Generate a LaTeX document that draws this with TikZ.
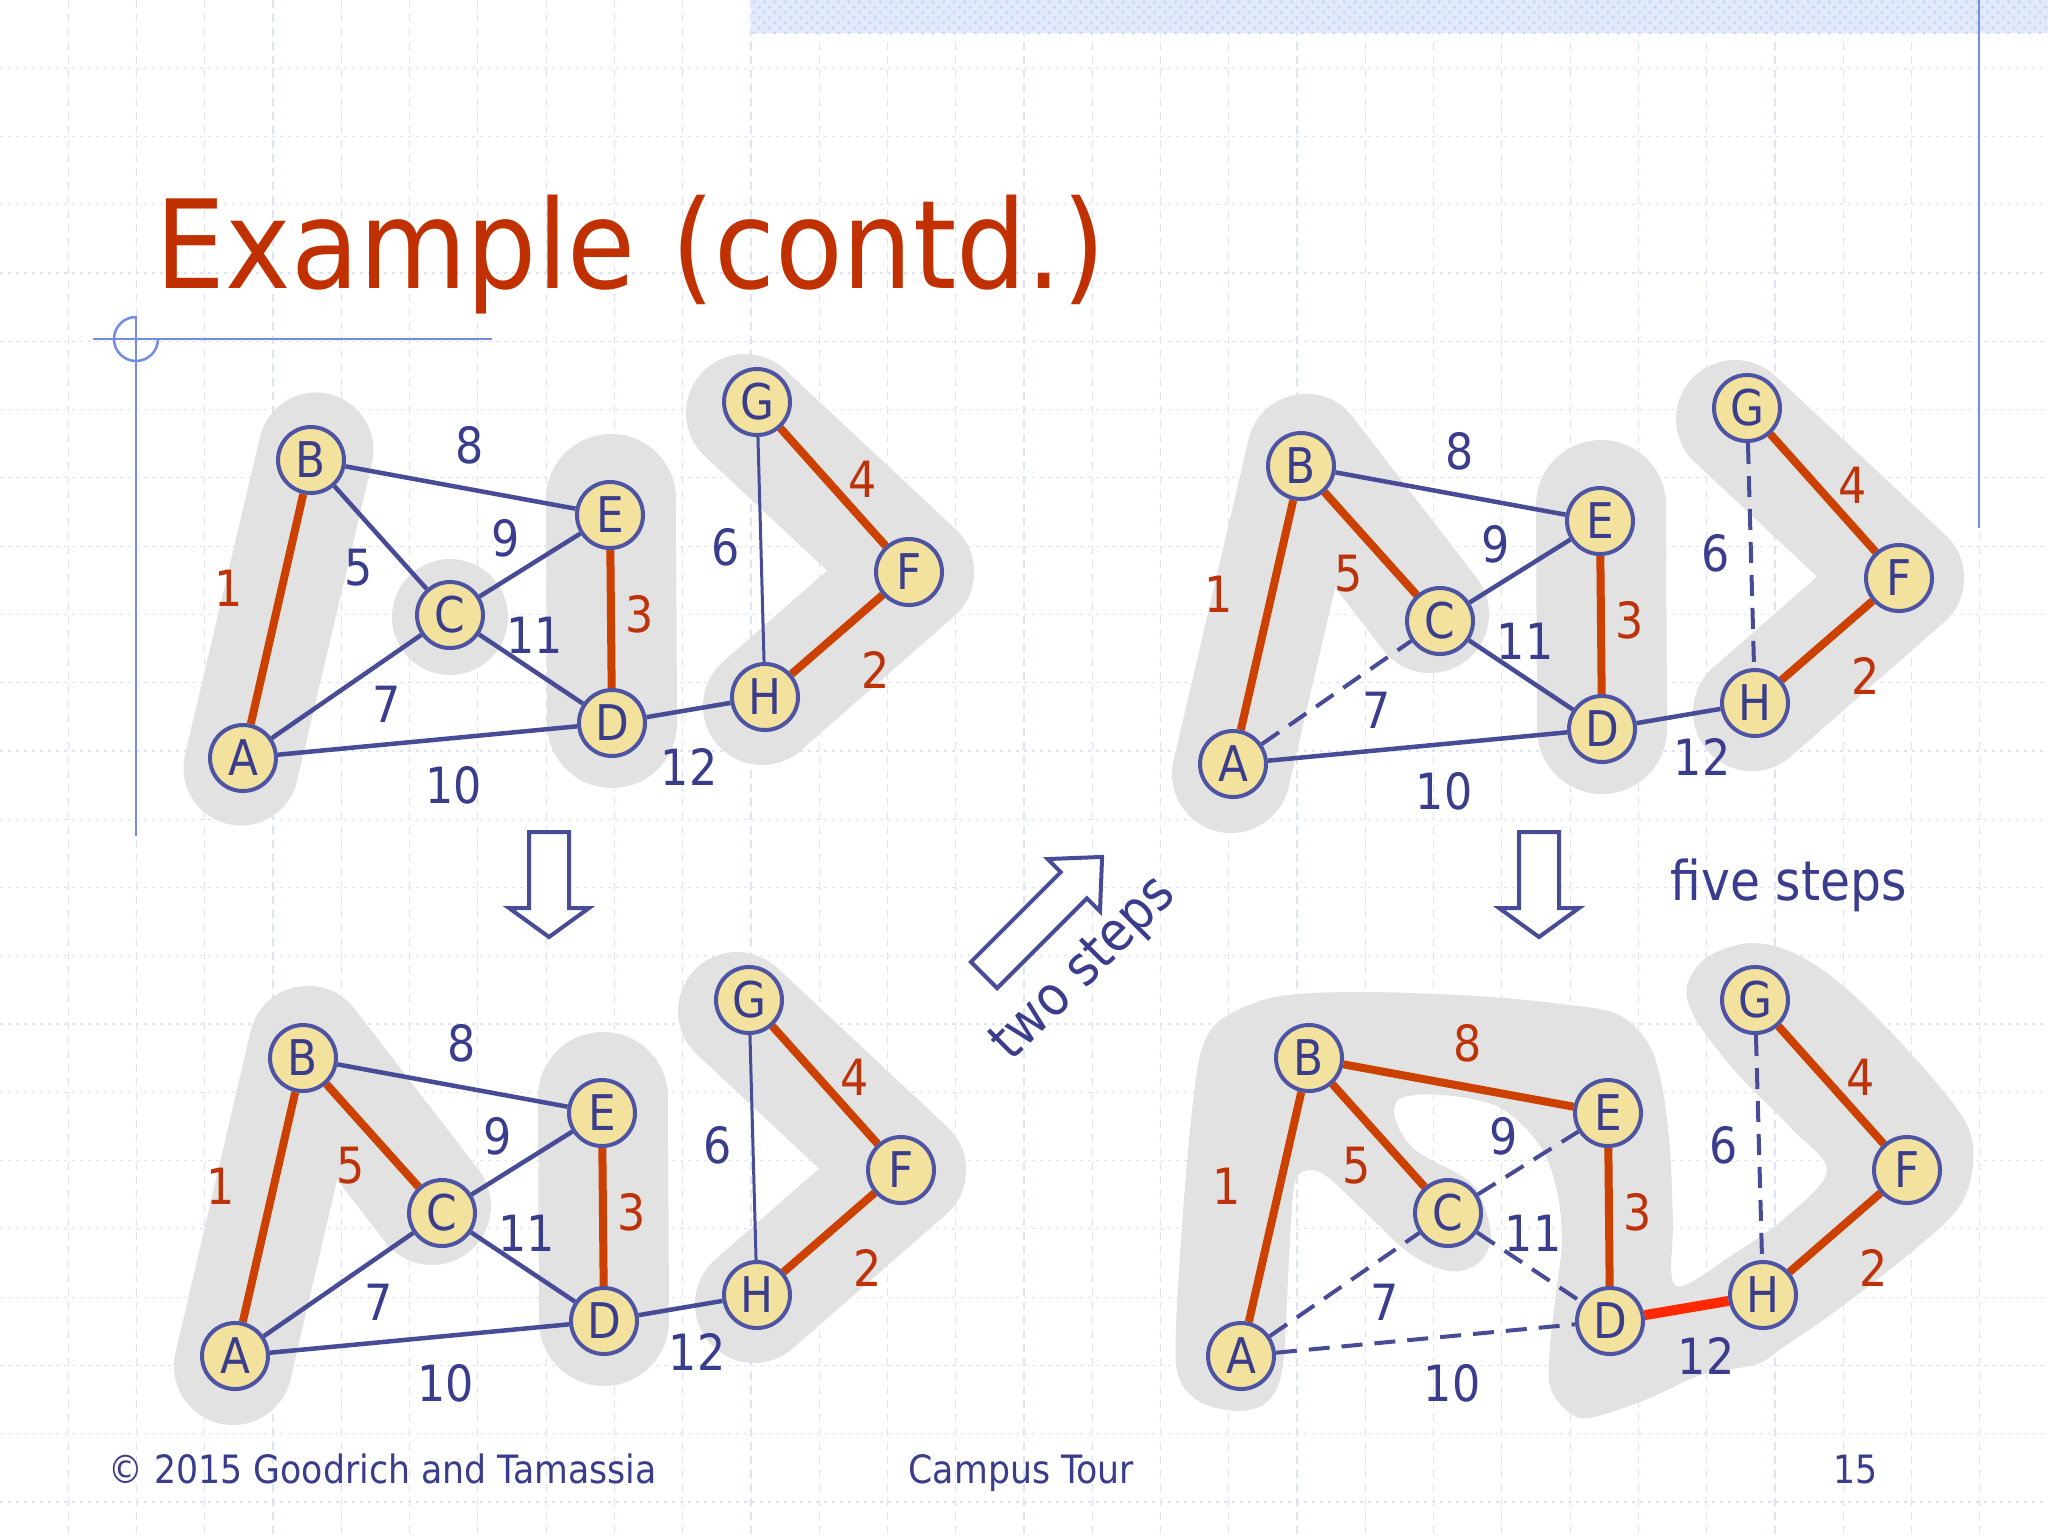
\documentclass[tikz,border=0pt]{standalone}
\usepackage{fontspec}
\setmainfont{DejaVu Sans}[FakeStretch=0.89]
\usetikzlibrary{calc,patterns}
\pgfdeclarelayer{back}
\pgfdeclarelayer{mid}
\pgfsetlayers{back,mid,main}
\definecolor{titlered}{RGB}{192,48,0}
\definecolor{edgered}{RGB}{204,64,0}
\definecolor{labred}{RGB}{190,50,10}
\definecolor{hotred}{RGB}{255,40,0}
\definecolor{edgeblue}{RGB}{72,76,150}
\definecolor{labblue}{RGB}{58,60,140}
\definecolor{nodefill}{RGB}{243,225,158}
\definecolor{nodeborder}{RGB}{78,84,164}
\definecolor{blobgray}{RGB}{226,226,226}
\definecolor{gridc}{RGB}{222,228,246}
\definecolor{decoblue}{RGB}{112,140,230}
\definecolor{bandblue}{RGB}{226,233,249}
\definecolor{bandpat}{RGB}{200,213,243}

\newcommand\gnodes{%
  \node[vtx] (A) at (243,758) {A};
  \node[vtx] (B) at (311,460) {B};
  \node[vtx] (C) at (450,615) {C};
  \node[vtx] (D) at (612,723) {D};
  \node[vtx] (E) at (610,515) {E};
  \node[vtx] (F) at (909,572) {F};
  \node[vtx] (G) at (757,402) {G};
  \node[vtx] (H) at (765,697) {H};
}
\newcommand\glabels[4]{%
  \node[lr] (l1) at (229,588) {1};
  \node[#1] (l5) at (359,568) {5};
  \node[#2] (l8) at (470,445) {8};
  \node[lb] (l9) at (506,538) {9};
  \node[lb] (l11) at (535,635) {11};
  \node[lr] (l3) at (640,614) {3};
  \node[lb] (l7) at (387,704) {7};
  \node[lb] (l10) at (454,785) {10};
  \node[lb] (l12) at (#3,#4) {12};
  \node[lb] (l6) at (726,547) {6};
  \node[lr] (l4) at (863,479) {4};
  \node[lr] (l2) at (876,670) {2};
}
\newcommand\chevronblob{%
  \draw[blob, line width=11.8mm] (745,413) -- (915,572) -- (762,706);
}

\begin{document}
\begin{tikzpicture}[x=0.1mm,y=-0.1mm,
  vtx/.style={circle, draw=nodeborder, line width=0.4mm, fill=nodefill,
    minimum size=6.6mm, inner sep=0pt, text=labblue,
    font=\fontsize{14}{16}\selectfont},
  lbl/.style={inner sep=0pt, font=\fontsize{14.2}{17}\selectfont},
  lr/.style={lbl, text=labred},
  lb/.style={lbl, text=labblue},
  bedge/.style={draw=edgeblue, line width=0.45mm},
  tedge/.style={draw=edgeblue, line width=0.3mm},
  redge/.style={draw=edgered, line width=0.8mm},
  dedge/.style={draw=edgeblue, line width=0.4mm, dash pattern=on 2.1mm off 1.2mm},
  hedge/.style={draw=hotred, line width=1.0mm},
  blob/.style={draw=blobgray, line cap=round, line join=round},
  hollow/.style={draw=edgeblue, line width=0.4mm, fill=white, line join=miter},
  deco/.style={draw=decoblue, line width=0.25mm},
  txt/.style={inner sep=0pt, text=labblue}
]
\useasboundingbox (0,0) rectangle (2048,1536);

\begin{pgfonlayer}{back}
  \fill[white] (0,0) rectangle (2048,1536);
  \foreach \i in {1,...,29}
    \draw[gridc, line width=0.12mm, dash pattern=on 0.8mm off 0.6mm]
      ({\i*68.2667},0) -- ({\i*68.2667},1536);
  \foreach \j in {1,...,22}
    \draw[gridc, line width=0.12mm, dash pattern=on 0.3mm off 0.5mm]
      (0,{\j*68.2667}) -- (2048,{\j*68.2667});
  \fill[bandblue] (751,0) rectangle (2048,33);
  \fill[pattern=crosshatch dots, pattern color=bandpat] (751,0) rectangle (2048,33);
  \draw[deco] (1979,0) -- (1979,528);
  \draw[deco] (93,339) -- (492,339);
  \draw[deco] (136,316) -- (136,836);
  \draw[deco] (158,339) arc[start angle=0, end angle=270, radius=22];
\end{pgfonlayer}

% title and texts
\node[anchor=base west, inner sep=0pt, text=titlered,
  font=\fontsize{35}{40}\selectfont] (title) at (155,288) {\addfontfeature{FakeStretch=0.9}Example (contd.)};
\node[txt, anchor=base west, font=\fontsize{11.1}{13}\selectfont] (copy) at (108,1483) {© 2015 Goodrich and Tamassia};
\node[txt, anchor=base west, font=\fontsize{11.1}{13}\selectfont] (campus) at (908,1483) {Campus Tour};
\node[txt, anchor=base west, font=\fontsize{11.1}{13}\selectfont] (pnum) at (1833,1483) {15};
\node[txt, anchor=base west, font=\fontsize{15.6}{18}\selectfont] (five) at (1670,900) {five steps};
\node[txt, rotate=45, font=\fontsize{15.6}{18}\selectfont] (two) at (1085,970) {two steps};

% hollow arrows
\begin{scope}[shift={(549,832)}]
  \draw[hollow] (-20,0) -- (20,0) -- (20,76) -- (40,76) -- (0,105) -- (-40,76) -- (-20,76) -- cycle;
\end{scope}
\begin{scope}[shift={(1539,832)}]
  \draw[hollow] (-20,0) -- (20,0) -- (20,76) -- (40,76) -- (0,105) -- (-40,76) -- (-20,76) -- cycle;
\end{scope}
\begin{scope}[shift={(984,975)}, rotate=45]
  \draw[hollow] (0,-18.5) -- (127,-18.5) -- (127,-37) -- (167,0) -- (127,37) -- (127,18.5) -- (0,18.5) -- cycle;
\end{scope}

% ---------- top-left graph
\begin{scope}[shift={(0,0)}, name prefix=tl-]
  \gnodes
  \glabels{lb}{lb}{689}{767}
  \begin{pgfonlayer}{back}
    \draw[blob, line width=11.5mm] (241,768) -- (316,450);
    \fill[blobgray] (450,617) circle[radius=58];
    \draw[blob, line width=13mm] (611,499) -- (612,723);
    \chevronblob
  \end{pgfonlayer}
  \begin{pgfonlayer}{mid}
    \draw[redge] (A) -- (B);
    \draw[bedge] (B) -- (E);
    \draw[bedge] (B) -- (C);
    \draw[bedge] (C) -- (E);
    \draw[bedge] (C) -- (D);
    \draw[bedge] (A) -- (C);
    \draw[bedge] (A) -- (D);
    \draw[redge] (E) -- (D);
    \draw[bedge] (D) -- (H);
    \draw[tedge] (G) -- (H);
    \draw[redge] (G) -- (F);
    \draw[redge] (F) -- (H);
  \end{pgfonlayer}
\end{scope}

% ---------- bottom-left graph
\begin{scope}[shift={(-8,598)}, name prefix=bl-]
  \gnodes
  \glabels{lr}{lb}{705}{754}
  \begin{pgfonlayer}{back}
    \draw[blob, line width=11.8mm] (241,768) -- (316,447) -- (440,608);
    \draw[blob, line width=13mm] (611,499) -- (612,723);
    \chevronblob
  \end{pgfonlayer}
  \begin{pgfonlayer}{mid}
    \draw[redge] (A) -- (B);
    \draw[bedge] (B) -- (E);
    \draw[redge] (B) -- (C);
    \draw[bedge] (C) -- (E);
    \draw[bedge] (C) -- (D);
    \draw[bedge] (A) -- (C);
    \draw[bedge] (A) -- (D);
    \draw[redge] (E) -- (D);
    \draw[bedge] (D) -- (H);
    \draw[tedge] (G) -- (H);
    \draw[redge] (G) -- (F);
    \draw[redge] (F) -- (H);
  \end{pgfonlayer}
\end{scope}

% ---------- top-right graph
\begin{scope}[shift={(990,6)}, name prefix=tr-]
  \gnodes
  \glabels{lr}{lb}{712}{751}
  \begin{pgfonlayer}{back}
    \draw[blob, line width=11.8mm] (241,768) -- (316,447) -- (440,608);
    \draw[blob, line width=13mm] (611,499) -- (612,723);
    \chevronblob
  \end{pgfonlayer}
  \begin{pgfonlayer}{mid}
    \draw[redge] (A) -- (B);
    \draw[bedge] (B) -- (E);
    \draw[redge] (B) -- (C);
    \draw[bedge] (C) -- (E);
    \draw[bedge] (C) -- (D);
    \draw[dedge] (A) -- (C);
    \draw[bedge] (A) -- (D);
    \draw[redge] (E) -- (D);
    \draw[bedge] (D) -- (H);
    \draw[dedge] (G) -- (H);
    \draw[redge] (G) -- (F);
    \draw[redge] (F) -- (H);
  \end{pgfonlayer}
\end{scope}

% ---------- bottom-right graph
\begin{pgfonlayer}{back}
  \fill[blobgray] plot[smooth cycle, tension=0.55] coordinates {
    (1207,1036) (1230,1014) (1280,996) (1364,992) (1477,996) (1561,1004)
    (1617,1014) (1648,1043) (1662,1086) (1670,1150) (1673,1221) (1676,1286)
    (1735,1253) (1785,1218) (1827,1171) (1791,1128) (1735,1071) (1695,1018)
    (1687,986) (1707,957) (1751,943) (1796,954) (1847,989) (1914,1057)
    (1965,1121) (1973,1164) (1959,1207) (1914,1250) (1841,1307) (1785,1346)
    (1757,1364) (1701,1375) (1645,1400) (1589,1418) (1566,1410) (1550,1386)
    (1550,1346) (1556,1293) (1562,1239) (1556,1186) (1538,1143) (1499,1107)
    (1443,1095) (1401,1098) (1395,1118) (1415,1150) (1465,1178) (1482,1200)
    (1491,1239) (1477,1264) (1449,1271) (1409,1253) (1364,1211) (1325,1175)
    (1305,1171) (1294,1186) (1289,1257) (1283,1364) (1269,1400) (1241,1411)
    (1202,1403) (1179,1378) (1176,1328) (1185,1186) (1196,1078)};
\end{pgfonlayer}
\begin{scope}[shift={(998,598)}, name prefix=br-]
  \gnodes
  \glabels{lr}{lr}{708}{758}
  \begin{pgfonlayer}{mid}
    \draw[redge] (A) -- (B);
    \draw[redge] (B) -- (E);
    \draw[redge] (B) -- (C);
    \draw[dedge] (C) -- (E);
    \draw[dedge] (C) -- (D);
    \draw[dedge] (A) -- (C);
    \draw[dedge] (A) -- (D);
    \draw[redge] (E) -- (D);
    \draw[hedge] (D) -- (H);
    \draw[dedge] (G) -- (H);
    \draw[redge] (G) -- (F);
    \draw[redge] (F) -- (H);
  \end{pgfonlayer}
\end{scope}
\end{tikzpicture}
\end{document}
